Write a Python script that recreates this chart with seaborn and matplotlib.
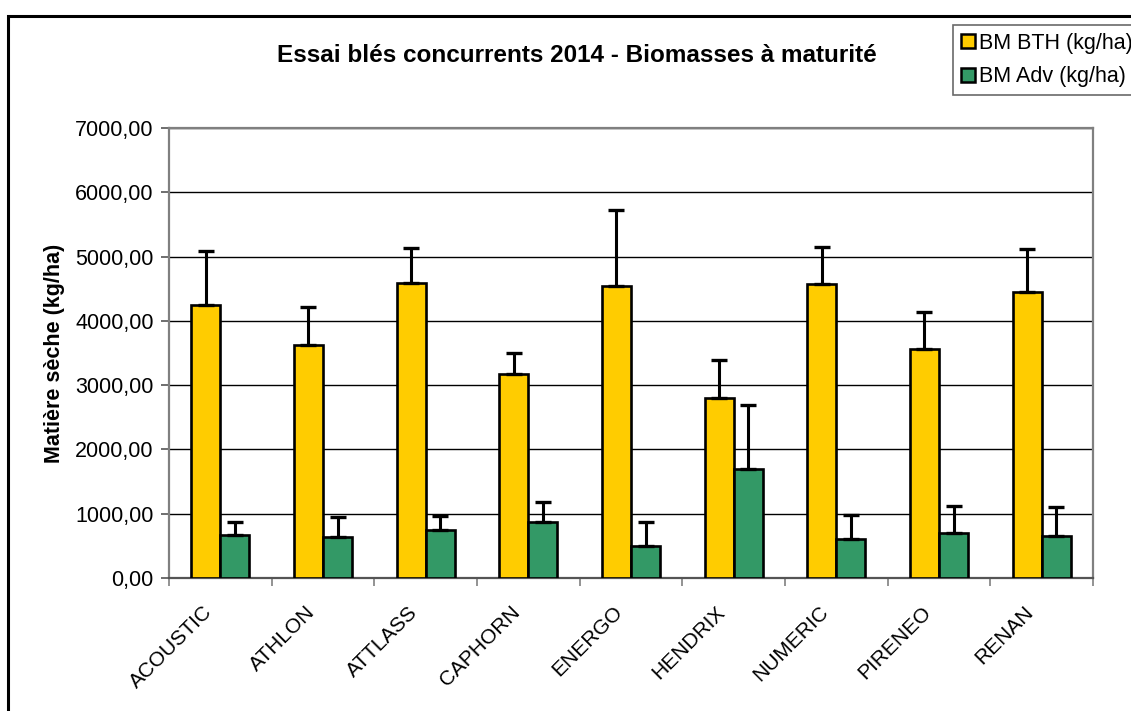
"""
Essai blés concurrents 2014 - biomasses à maturité (barres + écart-type vers le haut).
"""

import numpy as np
import pandas as pd
import seaborn as sns
import matplotlib.pyplot as plt
from matplotlib.patches import Rectangle
from matplotlib.ticker import FuncFormatter
from matplotlib.transforms import ScaledTranslation

output_file = "out.png"

# Données
varietes = ["ACOUSTIC", "ATHLON", "ATTLASS", "CAPHORN", "ENERGO",
            "HENDRIX", "NUMERIC", "PIRENEO", "RENAN"]
bm_bth = [4240, 3620, 4585, 3175, 4540, 2800, 4570, 3565, 4445]
bm_bth_err = [845, 590, 545, 320, 1190, 585, 575, 580, 675]
bm_adv = [670, 640, 740, 875, 495, 1700, 610, 700, 655]
bm_adv_err = [205, 305, 225, 305, 370, 985, 375, 420, 445]
series = ["BM BTH (kg/ha)", "BM Adv (kg/ha)"]
couleurs = ["#FFCC00", "#339966"]

df = pd.DataFrame({
    "variete": varietes * 2,
    "serie": [series[0]] * len(varietes) + [series[1]] * len(varietes),
    "valeur": bm_bth + bm_adv,
    "err": bm_bth_err + bm_adv_err,
})

sns.set_style("white")
plt.rcParams["font.family"] = ["Liberation Sans", "DejaVu Sans"]
plt.rcParams["text.color"] = "black"
plt.rcParams["xtick.color"] = "black"
plt.rcParams["ytick.color"] = "black"
plt.rcParams["axes.labelcolor"] = "black"

fig = plt.figure(figsize=(11.31, 7.11), dpi=100)
W, H = 1131, 711
ax = fig.add_axes([169 / W, 1 - 578 / H, (1093 - 169) / W, (578 - 128) / H])

sns.barplot(data=df, x="variete", y="valeur", hue="serie", palette=couleurs,
            width=0.565, errorbar=None, edgecolor="black", linewidth=1.9,
            saturation=1, ax=ax, legend=False, zorder=3)

# barres d'erreur (uniquement vers le haut), placées sur le centre des barres
for i, s in enumerate(series):
    sub = df[df["serie"] == s]
    patches = ax.patches[i * len(varietes):(i + 1) * len(varietes)]
    xs = [p.get_x() + p.get_width() / 2 for p in patches]
    ax.errorbar(xs, sub["valeur"], yerr=[np.zeros(len(sub)), sub["err"]],
                fmt="none", ecolor="black", elinewidth=2.2, capsize=5.5,
                capthick=2.4, zorder=4)

ax.set_ylim(0, 7000)
ax.set_xlim(-0.5, len(varietes) - 0.5)
ax.set_yticks(range(0, 7001, 1000))
ax.yaxis.set_major_formatter(FuncFormatter(lambda v, p: f"{v:.2f}".replace(".", ",")))
ax.yaxis.grid(True, color="black", linewidth=1)
ax.set_axisbelow(True)
for side in ["top", "right", "left"]:
    ax.spines[side].set_color("#808080")
    ax.spines[side].set_linewidth(1.6)
ax.spines["bottom"].set_color("#555555")
ax.spines["bottom"].set_linewidth(1.6)

ax.tick_params(axis="y", left=True, length=6, width=1.2, color="#555555",
               labelsize=15.5, pad=5)
ax.set_xticks(np.arange(len(varietes) + 1) - 0.5, minor=True)
ax.tick_params(axis="x", which="minor", bottom=True, length=6, width=1.2, color="#808080")
ax.tick_params(axis="x", which="major", bottom=False, labelsize=15, pad=14)
ax.set_xticks(range(len(varietes)))
ax.set_xticklabels(varietes, rotation=45, ha="right", rotation_mode="anchor")
decal = ScaledTranslation(-18 / 100, 0, fig.dpi_scale_trans)
for lab in ax.get_xticklabels():
    lab.set_transform(lab.get_transform() + decal)
ax.set_xlabel("")
ax.set_ylabel("Matière sèche (kg/ha)", fontsize=15.5, fontweight="bold", labelpad=7.5)

fig.text(577 / W, 1 - 55 / H, "Essai blés concurrents 2014 - Biomasses à maturité",
         ha="center", va="center", fontsize=17.5, fontweight="bold")

# légende à la Excel
handles = [Rectangle((0, 0), 1, 1, facecolor=c, edgecolor="black", linewidth=1.8)
           for c in couleurs]
leg = fig.legend(handles, series, loc="upper left",
                 bbox_to_anchor=(953 / W, 1 - 25 / H), fontsize=15.5,
                 frameon=True, fancybox=False, handlelength=0.65, handleheight=0.65,
                 handletextpad=0.2, borderpad=0.35, labelspacing=0.6,
                 borderaxespad=0)
leg.get_frame().set_edgecolor("#444444")
leg.get_frame().set_linewidth(1.2)

# cadre extérieur du graphique
fig.patches.append(Rectangle((8 / W, -0.1), 1.2, 1 - 16 / H + 0.1,
                             transform=fig.transFigure, fill=False,
                             edgecolor="black", linewidth=2.2))

plt.savefig(output_file, dpi=100)
plt.close()
